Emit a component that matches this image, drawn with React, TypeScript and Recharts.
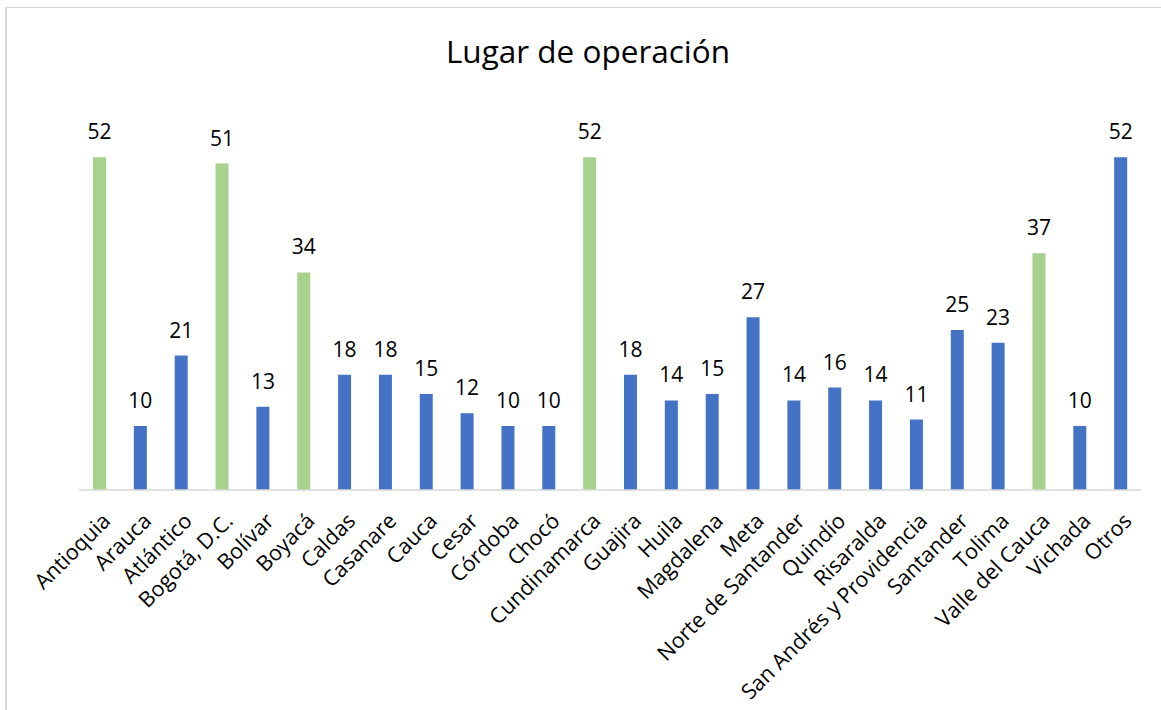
import { BarChart, Bar, XAxis, YAxis, Cell, LabelList } from "recharts";

const departments = [
  "Antioquia", "Arauca", "Atlántico", "Bogotá, D.C.", "Bolívar", "Boyacá", "Caldas",
  "Casanare", "Cauca", "Cesar", "Córdoba", "Chocó", "Cundinamarca", "Guajira", "Huila",
  "Magdalena", "Meta", "Norte de Santander", "Quindío", "Risaralda",
  "San Andrés y Providencia", "Santander", "Tolima", "Valle del Cauca", "Vichada", "Otros",
];
const counts = [52, 10, 21, 51, 13, 34, 18, 18, 15, 12, 10, 10, 52, 18, 14, 15, 27, 14, 16, 14, 11, 25, 23, 37, 10, 52];
const highlighted = ["Antioquia", "Bogotá, D.C.", "Boyacá", "Cundinamarca", "Valle del Cauca"];

const data = departments.map((name, i) => ({ name, value: counts[i] }));

const GREEN = "#A9D18E";
const BLUE = "#4472C4";
const FONT = "'Open Sans', sans-serif";

const RotatedTick = (props: any) => {
  const { x, y, payload } = props;
  return (
    <g transform={`translate(${x + 7},${y + 19}) rotate(-45)`}>
      <text x={0} y={0} dy="0.35em" textAnchor="end" fill="#000" fontSize={21.5} fontFamily={FONT}>
        {payload.value}
      </text>
    </g>
  );
};

export default function App() {
  return (
    <div style={{ position: "absolute", left: 0, top: 0, width: 1161, height: 710, background: "#fff" }}>
      <div
        style={{
          position: "absolute",
          left: 5,
          top: 7,
          right: 0,
          bottom: 0,
          borderTop: "1px solid #d9d9d9",
          borderLeft: "2px solid #d9d9d9",
        }}
      />
      <div
        style={{
          position: "absolute",
          left: 288,
          width: 600,
          top: 33,
          textAlign: "center",
          fontFamily: FONT,
          fontSize: 31.5,
          lineHeight: "36px",
          color: "#000",
        }}
      >
        Lugar de operación
      </div>
      <div style={{ position: "absolute", left: 0, top: 0 }}>
        <BarChart
          width={1161}
          height={710}
          data={data}
          margin={{ top: 106, right: 20, left: 79, bottom: 0 }}
        >
          <XAxis
            dataKey="name"
            interval={0}
            tickLine={false}
            axisLine={{ stroke: "#d9d9d9", strokeWidth: 1.5 }}
            height={220}
            tick={<RotatedTick />}
          />
          <YAxis hide domain={[0, 60]} width={0} />
          <Bar dataKey="value" barSize={13} isAnimationActive={false}>
            {data.map((d) => (
              <Cell key={d.name} fill={highlighted.includes(d.name) ? GREEN : BLUE} />
            ))}
            <LabelList
              dataKey="value"
              position="top"
              offset={18}
              fill="#000"
              fontSize={21}
              fontFamily={FONT}
            />
          </Bar>
        </BarChart>
      </div>
    </div>
  );
}
